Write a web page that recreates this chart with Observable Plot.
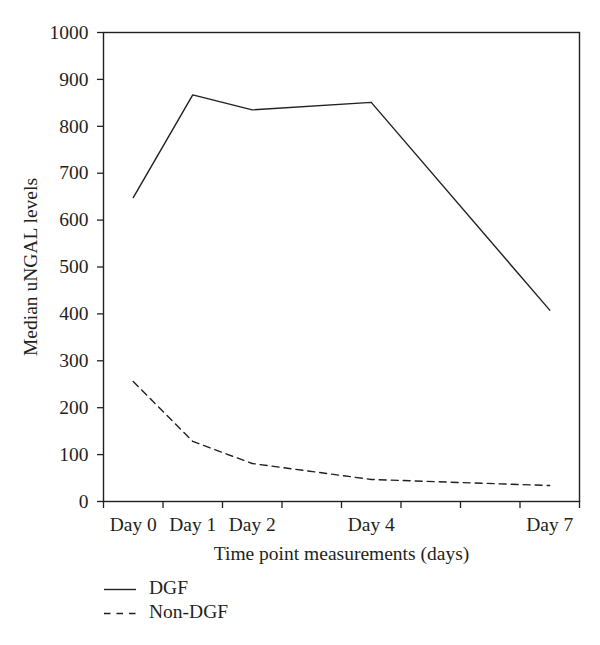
<!DOCTYPE html>
<html><head><meta charset="utf-8">
<script src="https://cdn.jsdelivr.net/npm/d3@7"></script>
<script src="https://cdn.jsdelivr.net/npm/@observablehq/plot@0.6"></script>
<style>
body{margin:0;background:#fff;font-family:"Liberation Serif",serif;color:#231f20}
#wrap{position:relative;width:600px;height:645px;background:#fff}
#legend{position:absolute;left:104px;top:576px;font-size:19.5px;line-height:24px}
.row{position:relative;height:24px;width:200px}
.row svg{position:absolute;left:0;top:0}
.row span{position:absolute;left:45px;top:0;white-space:nowrap}
</style></head><body>
<div id="wrap"><div id="chart"></div><div id="legend"></div></div>
<script>
const days = [0, 1, 2, 4, 7];
const dayLabels = ["Day 0", "Day 1", "Day 2", "Day 4", "Day 7"];
const dgf = [648, 867, 835, 851, 408];
const nonDgf = [256, 128, 81, 47, 34];
const seriesNames = ["DGF", "Non-DGF"];
const seriesDash = ["none", "7,5"];
const yTicks = [0, 100, 200, 300, 400, 500, 600, 700, 800, 900, 1000];
const xBoundaries = [-0.5, 0.5, 1.5, 2.5, 3.5, 4.5, 5.5, 6.5, 7.5];

const ink = "#231f20";
const rowsDgf = days.map((d, i) => ({day: d, value: dgf[i], group: seriesNames[0]}));
const rowsNon = days.map((d, i) => ({day: d, value: nonDgf[i], group: seriesNames[1]}));

const chart = Plot.plot({
  width: 600, height: 570,
  marginTop: 32, marginRight: 21, marginBottom: 69, marginLeft: 103,
  style: {fontFamily: "'Liberation Serif', serif", fontSize: "19.5px", color: ink, background: "#fff", overflow: "visible"},
  x: {domain: [-0.5, 7.5]},
  y: {domain: [0, 1000]},
  marks: [
    Plot.frame({stroke: ink, strokeWidth: 1.4}),
    Plot.axisY({ticks: yTicks, tickSize: 6, tickPadding: 9, strokeWidth: 1.3, tickFormat: d => String(d), label: "Median uNGAL levels", labelAnchor: "center", labelArrow: "none", labelOffset: 80}),
    Plot.axisX({ticks: xBoundaries, tickSize: 7, strokeWidth: 1.3, tickFormat: () => "", label: null}),
    Plot.axisX({ticks: days, tickSize: 0, tickPadding: 16, tickFormat: d => dayLabels[days.indexOf(d)], label: "Time point measurements (days)", labelAnchor: "center", labelArrow: "none", labelOffset: 58}),
    Plot.line(rowsDgf, {x: "day", y: "value", stroke: ink, strokeWidth: 1.4}),
    Plot.line(rowsNon, {x: "day", y: "value", stroke: ink, strokeWidth: 1.4, strokeDasharray: seriesDash[1]})
  ]
});
document.getElementById("chart").appendChild(chart);

const legend = document.getElementById("legend");
seriesNames.forEach((name, i) => {
  const row = document.createElement("div");
  row.className = "row";
  row.innerHTML = `<svg width="34" height="24"><line x1="0" x2="32" y1="13.5" y2="13.5" stroke="${ink}" stroke-width="1.4" ${seriesDash[i] !== "none" ? `stroke-dasharray="6.5,6"` : ""}></line></svg><span>${name}</span>`;
  legend.appendChild(row);
});
</script>
</body></html>
